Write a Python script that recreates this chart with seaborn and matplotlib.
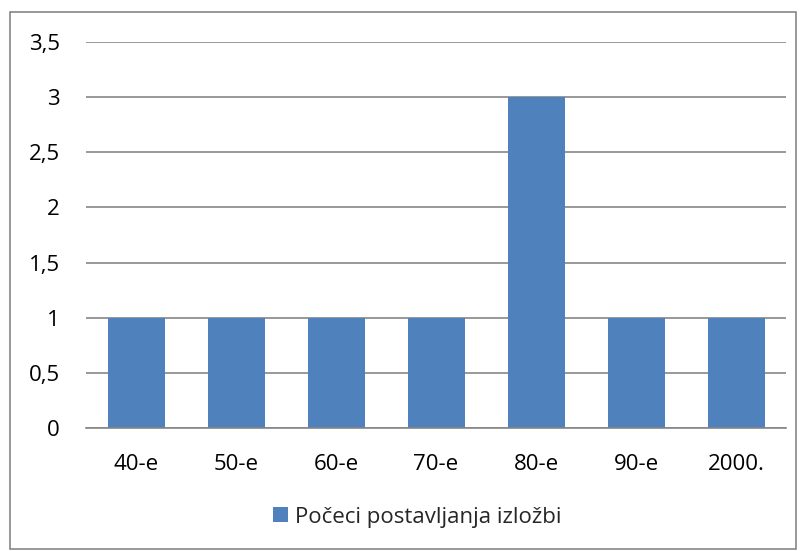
import pandas as pd
import matplotlib.pyplot as plt
import seaborn as sns
from matplotlib.patches import Rectangle, Patch

# data
categories = ['40-e', '50-e', '60-e', '70-e', '80-e', '90-e', '2000.']
values = [1, 1, 1, 1, 3, 1, 1]
series_name = 'Počeci postavljanja izložbi'
y_ticks = [0, 0.5, 1, 1.5, 2, 2.5, 3, 3.5]

df = pd.DataFrame({'cat': categories, 'val': values})

sns.set_theme(style='white')
plt.rcParams['font.family'] = ['Open Sans', 'DejaVu Sans']

W, H = 806, 551
fig = plt.figure(figsize=(W / 100, H / 100), dpi=100)
ax = fig.add_axes([86 / W, 1 - 428 / H, 700 / W, (428 - 42) / H])

bar_color = '#4F81BD'
sns.barplot(data=df, x='cat', y='val', color=bar_color, saturation=1,
            width=0.57, linewidth=0, ax=ax)

ax.set_ylim(0, 3.5)
ax.set_xlim(-0.5, len(categories) - 0.5)
ax.set_yticks(y_ticks)
ax.set_yticklabels([f'{t:g}'.replace('.', ',') for t in y_ticks])
ax.yaxis.grid(True, color='#868686', linewidth=1.2)
ax.set_axisbelow(True)
for side in ['top', 'right', 'left']:
    ax.spines[side].set_visible(False)
ax.spines['bottom'].set_color('#868686')
ax.spines['bottom'].set_linewidth(1.2)
ax.set_xlabel('')
ax.set_ylabel('')
ax.tick_params(axis='both', length=0, labelsize=16, colors='black')
ax.tick_params(axis='y', pad=19)
ax.tick_params(axis='x', pad=19)

# legend
handle = Patch(facecolor=bar_color, edgecolor='none', label=series_name)
fig.legend(handles=[handle], loc='center', bbox_to_anchor=(417 / W, 1 - 517 / H),
           frameon=False, fontsize=16, handlelength=0.68, handleheight=0.68,
           handletextpad=0.3)

# outer border
fig.patches.append(Rectangle((10 / W, 1 - 549 / H), (796 - 10) / W, (549 - 12) / H,
                             transform=fig.transFigure, fill=False,
                             edgecolor='#868686', linewidth=1.2))

fig.savefig('out.png', dpi=100)
